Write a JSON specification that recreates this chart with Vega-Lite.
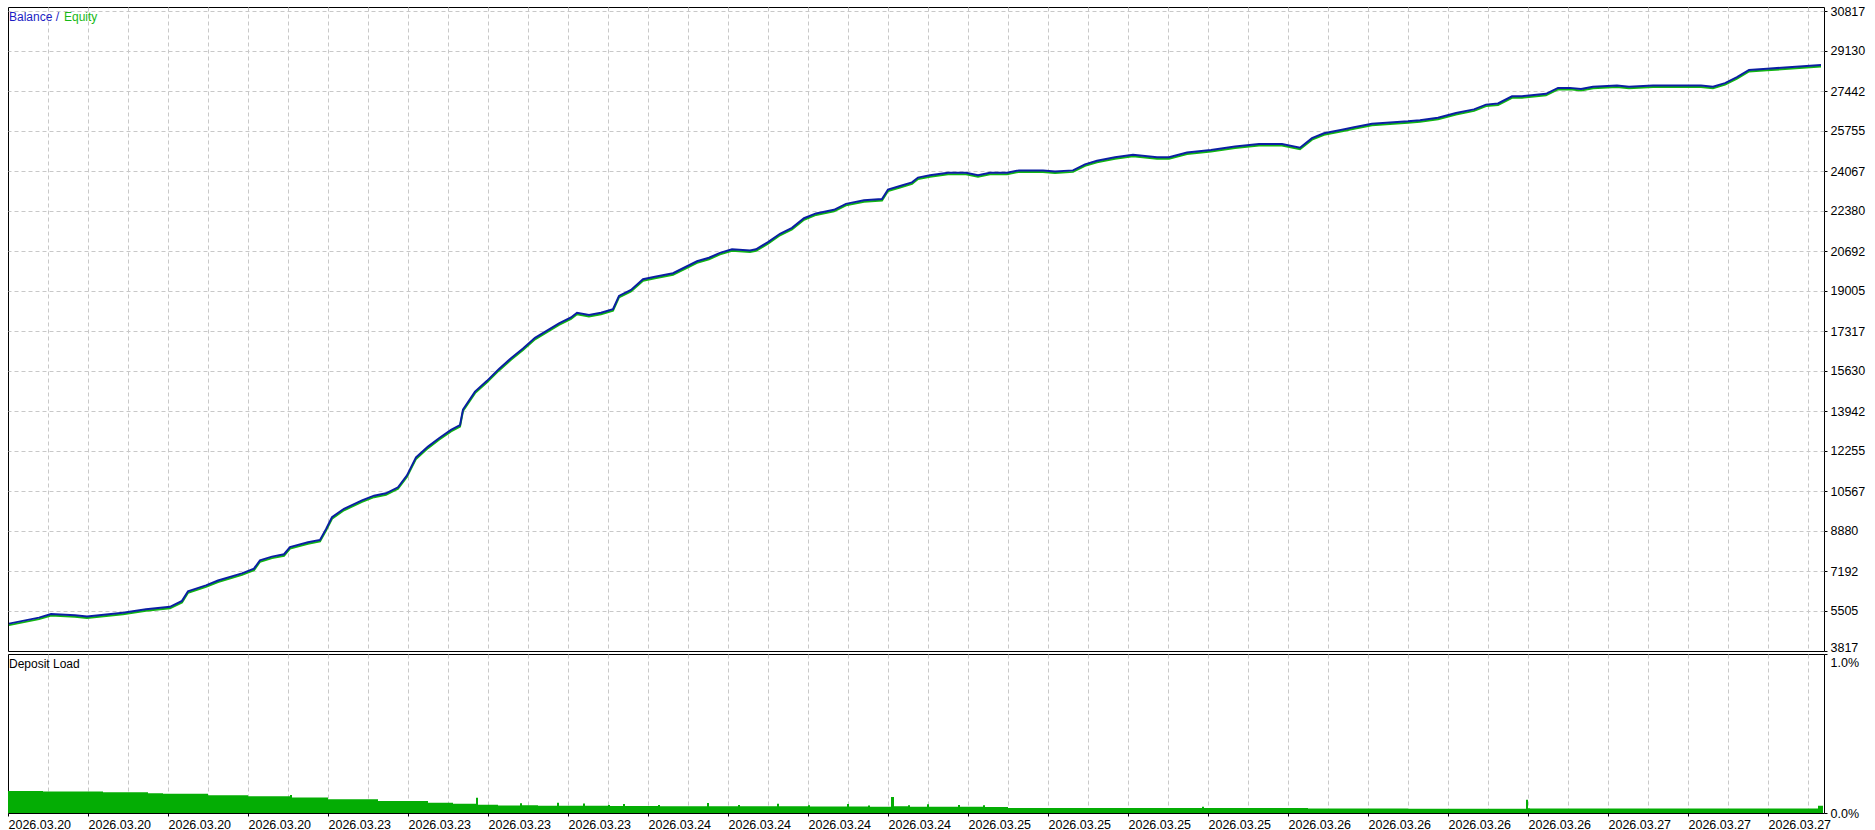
{
  "$schema": "https://vega.github.io/schema/vega-lite/v6.json",
  "background": "white",
  "padding": {"left": 4, "top": 4, "right": 0, "bottom": 0},
  "spacing": 3,
  "bounds": "flush",
  "resolve": {"scale": {"color": "independent"}, "legend": {"color": "independent"}},
  "config": {
    "font": "Liberation Sans",
    "view": {"stroke": "#000000", "strokeWidth": 1},
    "axis": {
      "labelFont": "Liberation Sans",
      "labelFontSize": 12.5,
      "labelColor": "#000000",
      "tickColor": "#000000",
      "domainColor": "#000000",
      "gridColor": "#c8c8c8",
      "gridDash": [4, 3],
      "tickSize": 3,
      "labelPadding": 2,
      "title": null
    },
    "legend": {
      "orient": "top-left",
      "direction": "horizontal",
      "title": null,
      "symbolSize": 0,
      "symbolStrokeWidth": 0,
      "symbolOpacity": 0,
      "labelOffset": -15,
      "padding": 0,
      "offset": 4,
      "columnPadding": 4,
      "labelFont": "Liberation Sans",
      "labelFontSize": 12
    }
  },
  "datasets": {
    "bal": [
      {"i": 1, "balance": 4972, "equity": 4972},
      {"i": 31, "balance": 5225, "equity": 5225},
      {"i": 43, "balance": 5376, "equity": 5376},
      {"i": 67, "balance": 5325, "equity": 5325},
      {"i": 79, "balance": 5275, "equity": 5275},
      {"i": 103, "balance": 5376, "equity": 5376},
      {"i": 115, "balance": 5426, "equity": 5426},
      {"i": 138, "balance": 5578, "equity": 5578},
      {"i": 162, "balance": 5679, "equity": 5679},
      {"i": 174, "balance": 5931, "equity": 5931},
      {"i": 180, "balance": 6334, "equity": 6334},
      {"i": 198, "balance": 6587, "equity": 6587},
      {"i": 210, "balance": 6789, "equity": 6789},
      {"i": 234, "balance": 7091, "equity": 7091},
      {"i": 246, "balance": 7293, "equity": 7293},
      {"i": 252, "balance": 7646, "equity": 7646},
      {"i": 264, "balance": 7798, "equity": 7798},
      {"i": 276, "balance": 7898, "equity": 7898},
      {"i": 282, "balance": 8201, "equity": 8201},
      {"i": 300, "balance": 8403, "equity": 8403},
      {"i": 312, "balance": 8504, "equity": 8504},
      {"i": 318, "balance": 8958, "equity": 8958},
      {"i": 324, "balance": 9462, "equity": 9462},
      {"i": 336, "balance": 9816, "equity": 9816},
      {"i": 354, "balance": 10169, "equity": 10169},
      {"i": 366, "balance": 10370, "equity": 10370},
      {"i": 378, "balance": 10471, "equity": 10471},
      {"i": 390, "balance": 10724, "equity": 10724},
      {"i": 399, "balance": 11228, "equity": 11228},
      {"i": 408, "balance": 11985, "equity": 11985},
      {"i": 420, "balance": 12439, "equity": 12439},
      {"i": 431, "balance": 12792, "equity": 12792},
      {"i": 443, "balance": 13145, "equity": 13145},
      {"i": 452, "balance": 13347, "equity": 13347},
      {"i": 455, "balance": 14003, "equity": 14003},
      {"i": 467, "balance": 14760, "equity": 14760},
      {"i": 479, "balance": 15214, "equity": 15214},
      {"i": 491, "balance": 15718, "equity": 15718},
      {"i": 503, "balance": 16172, "equity": 16172},
      {"i": 515, "balance": 16576, "equity": 16576},
      {"i": 527, "balance": 17030, "equity": 17030},
      {"i": 539, "balance": 17333, "equity": 17333},
      {"i": 551, "balance": 17635, "equity": 17635},
      {"i": 563, "balance": 17887, "equity": 17887},
      {"i": 569, "balance": 18089, "equity": 18089},
      {"i": 581, "balance": 17988, "equity": 17988},
      {"i": 593, "balance": 18089, "equity": 18089},
      {"i": 605, "balance": 18241, "equity": 18241},
      {"i": 611, "balance": 18796, "equity": 18796},
      {"i": 623, "balance": 19048, "equity": 19048},
      {"i": 635, "balance": 19502, "equity": 19502},
      {"i": 647, "balance": 19603, "equity": 19603},
      {"i": 665, "balance": 19754, "equity": 19754},
      {"i": 677, "balance": 20006, "equity": 20006},
      {"i": 689, "balance": 20259, "equity": 20259},
      {"i": 701, "balance": 20410, "equity": 20410},
      {"i": 712, "balance": 20612, "equity": 20612},
      {"i": 724, "balance": 20763, "equity": 20763},
      {"i": 742, "balance": 20713, "equity": 20713},
      {"i": 748, "balance": 20763, "equity": 20763},
      {"i": 760, "balance": 21066, "equity": 21066},
      {"i": 772, "balance": 21419, "equity": 21419},
      {"i": 784, "balance": 21671, "equity": 21671},
      {"i": 796, "balance": 22075, "equity": 22075},
      {"i": 808, "balance": 22277, "equity": 22277},
      {"i": 826, "balance": 22428, "equity": 22428},
      {"i": 838, "balance": 22680, "equity": 22680},
      {"i": 856, "balance": 22832, "equity": 22832},
      {"i": 874, "balance": 22882, "equity": 22882},
      {"i": 880, "balance": 23286, "equity": 23286},
      {"i": 892, "balance": 23437, "equity": 23437},
      {"i": 904, "balance": 23588, "equity": 23588},
      {"i": 910, "balance": 23790, "equity": 23790},
      {"i": 922, "balance": 23891, "equity": 23891},
      {"i": 940, "balance": 23992, "equity": 23992},
      {"i": 958, "balance": 23992, "equity": 23992},
      {"i": 970, "balance": 23891, "equity": 23891},
      {"i": 982, "balance": 23992, "equity": 23992},
      {"i": 999, "balance": 23992, "equity": 23992},
      {"i": 1011, "balance": 24093, "equity": 24093},
      {"i": 1035, "balance": 24093, "equity": 24093},
      {"i": 1047, "balance": 24042, "equity": 24042},
      {"i": 1065, "balance": 24093, "equity": 24093},
      {"i": 1077, "balance": 24345, "equity": 24345},
      {"i": 1089, "balance": 24496, "equity": 24496},
      {"i": 1107, "balance": 24648, "equity": 24648},
      {"i": 1125, "balance": 24749, "equity": 24749},
      {"i": 1149, "balance": 24648, "equity": 24648},
      {"i": 1161, "balance": 24648, "equity": 24648},
      {"i": 1179, "balance": 24850, "equity": 24850},
      {"i": 1203, "balance": 24950, "equity": 24950},
      {"i": 1227, "balance": 25102, "equity": 25102},
      {"i": 1251, "balance": 25203, "equity": 25203},
      {"i": 1274, "balance": 25203, "equity": 25203},
      {"i": 1292, "balance": 25051, "equity": 25051},
      {"i": 1304, "balance": 25455, "equity": 25455},
      {"i": 1316, "balance": 25657, "equity": 25657},
      {"i": 1334, "balance": 25808, "equity": 25808},
      {"i": 1346, "balance": 25909, "equity": 25909},
      {"i": 1364, "balance": 26060, "equity": 26060},
      {"i": 1382, "balance": 26111, "equity": 26111},
      {"i": 1400, "balance": 26161, "equity": 26161},
      {"i": 1412, "balance": 26212, "equity": 26212},
      {"i": 1430, "balance": 26313, "equity": 26313},
      {"i": 1448, "balance": 26514, "equity": 26514},
      {"i": 1466, "balance": 26666, "equity": 26666},
      {"i": 1478, "balance": 26868, "equity": 26868},
      {"i": 1490, "balance": 26918, "equity": 26918},
      {"i": 1504, "balance": 27221, "equity": 27221},
      {"i": 1514, "balance": 27221, "equity": 27221},
      {"i": 1526, "balance": 27271, "equity": 27271},
      {"i": 1538, "balance": 27322, "equity": 27322},
      {"i": 1550, "balance": 27574, "equity": 27574},
      {"i": 1562, "balance": 27574, "equity": 27574},
      {"i": 1573, "balance": 27524, "equity": 27524},
      {"i": 1585, "balance": 27625, "equity": 27625},
      {"i": 1609, "balance": 27675, "equity": 27675},
      {"i": 1621, "balance": 27625, "equity": 27625},
      {"i": 1645, "balance": 27675, "equity": 27675},
      {"i": 1669, "balance": 27675, "equity": 27675},
      {"i": 1693, "balance": 27675, "equity": 27675},
      {"i": 1705, "balance": 27625, "equity": 27625},
      {"i": 1717, "balance": 27776, "equity": 27776},
      {"i": 1729, "balance": 28028, "equity": 28028},
      {"i": 1741, "balance": 28331, "equity": 28331},
      {"i": 1759, "balance": 28381, "equity": 28381},
      {"i": 1777, "balance": 28432, "equity": 28432},
      {"i": 1795, "balance": 28482, "equity": 28482},
      {"i": 1813, "balance": 28537, "equity": 28537}
    ],
    "dep": [
      {"i": 0, "load": 0.138}, {"i": 35, "load": 0.136}, {"i": 95, "load": 0.13},
      {"i": 140, "load": 0.125}, {"i": 155, "load": 0.121}, {"i": 200, "load": 0.112},
      {"i": 240, "load": 0.106}, {"i": 282, "load": 0.113}, {"i": 284, "load": 0.097},
      {"i": 320, "load": 0.086}, {"i": 370, "load": 0.075}, {"i": 420, "load": 0.064},
      {"i": 445, "load": 0.058}, {"i": 468, "load": 0.096}, {"i": 470, "load": 0.052},
      {"i": 490, "load": 0.047}, {"i": 512, "load": 0.062}, {"i": 514, "load": 0.048},
      {"i": 530, "load": 0.045}, {"i": 549, "load": 0.064}, {"i": 551, "load": 0.046},
      {"i": 575, "load": 0.06}, {"i": 577, "load": 0.045}, {"i": 600, "load": 0.05},
      {"i": 602, "load": 0.044}, {"i": 615, "load": 0.056}, {"i": 617, "load": 0.044},
      {"i": 650, "load": 0.05}, {"i": 652, "load": 0.043}, {"i": 699, "load": 0.063},
      {"i": 701, "load": 0.043}, {"i": 730, "load": 0.05}, {"i": 732, "load": 0.042},
      {"i": 769, "load": 0.058}, {"i": 771, "load": 0.042}, {"i": 800, "load": 0.048},
      {"i": 802, "load": 0.041}, {"i": 839, "load": 0.056}, {"i": 841, "load": 0.041},
      {"i": 860, "load": 0.047}, {"i": 862, "load": 0.04}, {"i": 883, "load": 0.1},
      {"i": 886, "load": 0.042}, {"i": 900, "load": 0.048}, {"i": 902, "load": 0.04},
      {"i": 919, "load": 0.055}, {"i": 921, "load": 0.04}, {"i": 950, "load": 0.05},
      {"i": 952, "load": 0.039}, {"i": 975, "load": 0.048}, {"i": 977, "load": 0.038},
      {"i": 1000, "load": 0.031}, {"i": 1194, "load": 0.04}, {"i": 1196, "load": 0.031},
      {"i": 1300, "load": 0.029}, {"i": 1400, "load": 0.026}, {"i": 1518, "load": 0.084},
      {"i": 1520, "load": 0.03}, {"i": 1522, "load": 0.028}, {"i": 1810, "load": 0.046},
      {"i": 1815, "load": 0.046}
    ]
  },
  "vconcat": [
    {
      "width": 1816,
      "height": 644,
      "data": {"name": "bal"},
      "encoding": {
        "x": {
          "field": "i",
          "type": "quantitative",
          "scale": {"domain": [0, 1816], "nice": false, "zero": false},
          "axis": {
            "values": [40, 80, 120, 160, 200, 240, 280, 320, 360, 400, 440, 480, 520, 560, 600, 640, 680, 720, 760, 800, 840, 880, 920, 960, 1000, 1040, 1080, 1120, 1160, 1200, 1240, 1280, 1320, 1360, 1400, 1440, 1480, 1520, 1560, 1600, 1640, 1680, 1720, 1760, 1800],
            "labels": false,
            "ticks": false,
            "domain": false,
            "grid": true,
            "minExtent": 0,
            "maxExtent": 0
          }
        }
      },
      "layer": [
        {
          "mark": {"type": "line", "strokeWidth": 2, "yOffset": 1.5},
          "encoding": {
            "y": {
              "field": "equity",
              "type": "quantitative",
              "scale": {"domain": [3817, 30986], "nice": false, "zero": false},
              "axis": {
                "orient": "right",
                "values": [3817, 5505, 7192, 8880, 10567, 12255, 13942, 15630, 17317, 19005, 20692, 22380, 24067, 25755, 27442, 29130, 30817],
                "format": "d",
                "domain": false,
                "grid": true,
                "gridOpacity": {"condition": {"test": "datum.value == 3817", "value": 0}, "value": 1},
                "labelBaseline": {"condition": {"test": "datum.value == 3817", "value": "alphabetic"}, "value": "middle"},
                "labelPadding": 3
              }
            },
            "color": {
              "datum": "Equity",
              "type": "nominal",
              "scale": {"domain": ["Balance", "Equity"], "range": ["#0b1fa3", "#12b612"]},
              "legend": {
                "labelExpr": "datum.label == 'Balance' ? 'Balance /' : datum.label",
                "encode": {"labels": {"update": {"fill": {"signal": "datum.value == 'Balance' ? '#1c1cc4' : '#17b917'"}}}}
              }
            }
          }
        },
        {
          "mark": {"type": "line", "strokeWidth": 2},
          "encoding": {
            "y": {"field": "balance", "type": "quantitative"},
            "color": {"datum": "Balance", "type": "nominal"}
          }
        }
      ]
    },
    {
      "width": 1816,
      "height": 159,
      "data": {"name": "dep"},
      "mark": {"type": "area", "interpolate": "step-after"},
      "encoding": {
        "x": {
          "field": "i",
          "type": "quantitative",
          "scale": {"domain": [0, 1816], "nice": false, "zero": false},
          "axis": {
            "values": [0, 40, 80, 120, 160, 200, 240, 280, 320, 360, 400, 440, 480, 520, 560, 600, 640, 680, 720, 760, 800, 840, 880, 920, 960, 1000, 1040, 1080, 1120, 1160, 1200, 1240, 1280, 1320, 1360, 1400, 1440, 1480, 1520, 1560, 1600, 1640, 1680, 1720, 1760, 1800],
            "labelExpr": "datum.value % 80 == 0 ? ['2026.03.20','2026.03.20','2026.03.20','2026.03.20','2026.03.23','2026.03.23','2026.03.23','2026.03.23','2026.03.24','2026.03.24','2026.03.24','2026.03.24','2026.03.25','2026.03.25','2026.03.25','2026.03.25','2026.03.26','2026.03.26','2026.03.26','2026.03.26','2026.03.27','2026.03.27','2026.03.27'][datum.value / 80] : ''",
            "labelAlign": "left",
            "labelOverlap": false,
            "labelFlush": false,
            "labelBound": false,
            "tickOpacity": {"condition": {"test": "datum.value % 80 == 0", "value": 1}, "value": 0},
            "gridOpacity": {"condition": {"test": "datum.value == 0", "value": 0}, "value": 1},
            "domain": false,
            "grid": true
          }
        },
        "y": {
          "field": "load",
          "type": "quantitative",
          "scale": {"domain": [0, 1], "nice": false, "zero": true},
          "axis": {
            "orient": "right",
            "values": [0, 1],
            "labelExpr": "format(datum.value, '.1f') + '%'",
            "labelBaseline": {"condition": {"test": "datum.value == 1", "value": "top"}, "value": "middle"},
            "labelOffset": {"condition": {"test": "datum.value == 1", "value": 2}, "value": 0},
            "domain": false,
            "grid": false,
            "labelPadding": 3
          }
        },
        "color": {
          "datum": "Deposit Load",
          "type": "nominal",
          "scale": {"range": ["#04ad04"]},
          "legend": {"labelColor": "#000000"}
        }
      }
    }
  ]
}
